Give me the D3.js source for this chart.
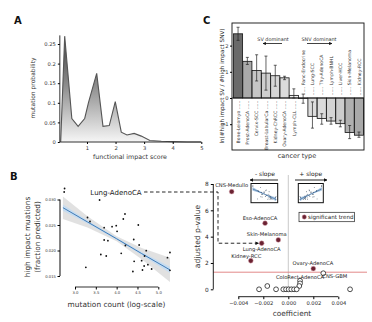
<!DOCTYPE html>
<html><head><meta charset="utf-8">
<script src="https://cdn.jsdelivr.net/npm/d3@7"></script>
<style>body{margin:0;background:#fff}svg{display:block;font-family:"DejaVu Sans",sans-serif}</style>
</head><body><svg id="c" width="372" height="322"></svg>
<script>
// ---- Panel A data: functional impact score distribution
const impactScore = [0.08,0.22,0.47,0.69,0.92,1.05,1.34,1.56,1.78,1.99,2.2,2.4,2.65,2.9,3.2,3.6,4.0,4.5,5.0];
const mutationProb = [0.0,0.27,0.06,0.04,0.06,0.1,0.175,0.04,0.042,0.103,0.025,0.018,0.022,0.015,0.004,0.002,0.001,0.0,0.0];
const aYTicks = [0,0.05,0.1,0.15,0.2,0.25];
const aXTicks = [1,2,3,4,5];

// ---- Panel C data
const cancerTypes = ["Bone-Leiomyo","Prost-AdenoCA","Cervix-SCC","Breast-LobularCa","Kidney-ChRCC","Ovary-AdenoCA","Lymph-CLL","Panc-Endocrine","Lung-SCC","Thy-AdenoCA","Lymph-BNHL","Liver-HCC","Skin-Melanoma","Kidney-RCC"];
const logRatio = [2.45,1.4,1.05,0.95,0.85,0.77,0.1,-0.02,-0.7,-0.78,-0.88,-0.98,-1.32,-1.42];
const errLow  = [2.2,1.28,0.65,0.3,0.45,0.7,0.0,-0.2,-1.15,-1.0,-1.0,-1.1,-1.55,-1.5];
const errHigh = [2.7,1.55,1.65,1.6,1.25,0.83,0.35,0.15,-0.15,-0.6,-0.75,-0.85,-1.05,-1.3];
const cYTicks = [-1,0,1,2];

// ---- Panel B left data: mutation count vs high impact fraction
const logMutCount = [2.75,2.74,3.59,3.30,3.36,3.70,3.89,3.99,4.01,4.16,4.20,3.70,3.79,3.62,3.75,4.11,4.52,4.21,4.41,4.54,4.71,4.67,4.42,4.39,4.60,4.66,4.75,4.84,4.62,3.26,5.22,5.28,5.28];
const highImpactFrac = [0.03216,0.03147,0.0299,0.02647,0.02569,0.02447,0.02467,0.02486,0.02376,0.02618,0.02716,0.02206,0.02192,0.01922,0.01892,0.01945,0.0250,0.02098,0.02216,0.02108,0.01996,0.01892,0.01788,0.01588,0.0180,0.01696,0.01722,0.01637,0.01618,0.01671,0.01859,0.01961,0.01612];
const fitX = [2.71,3.3,4.0,4.6,5.28];
const fitY = [0.0284,0.0256,0.0223,0.0194,0.0162];
const ciLow  = [0.0262,0.0245,0.0218,0.0183,0.0138];
const ciHigh = [0.0306,0.0267,0.0228,0.0205,0.0186];
const blueLow  = [0.0278,0.0253,0.0221,0.0191,0.0156];
const blueHigh = [0.0290,0.0259,0.0225,0.0197,0.0168];
const bXTicks = [3.0,3.5,4.0,4.5,5.0];
const bYTicks = [0.015,0.020,0.025,0.030];

// ---- Panel B right data: coefficient vs adjusted p-value
const tumorNames = ["CNS-Medullo","Eso-AdenoCA","Skin-Melanoma","Lung-AdenoCA","Kidney-RCC","Ovary-AdenoCA","CNS-GBM","ColoRect-AdenoCA","","","","","","","","","","","",""];
const coefficient = [-0.00453,-0.00186,-0.0008,-0.00213,-0.003,0.002,0.0028,0.00094,0.00094,0.00088,-0.00168,-0.00234,-0.00098,-0.0004,-0.00018,0.00003,0.00024,0.00046,0.00067,0.00494];
const adjP = [7.42,5.02,3.75,3.5,2.17,1.57,1.22,0.65,0.45,0.25,0.25,0,0,0,0,0,0,0,0,0];
const significant = [1,1,1,1,1,1,0,0,0,0,0,0,0,0,0,0,0,0,0,0];
const pThreshold = 1.3;
const rXTicks = [-0.004,-0.002,0,0.002,0.004];
const rYTicks = [0,2,4,6,8];

const svg = d3.select("#c");
svg.append("rect").attr("width",372).attr("height",322).attr("fill","#fff");
const defs = svg.append("defs");
const mk = (id)=>{ defs.append("marker").attr("id",id).attr("viewBox","0 0 10 10").attr("refX",9).attr("refY",5)
  .attr("markerWidth",4).attr("markerHeight",4).attr("orient","auto")
  .append("path").attr("d","M0,0L10,5L0,10z").attr("fill","#111"); };
mk("arr");

function label(x,y,t,size,opts={}){
  const c = opts.fill||"#222";
  const el = svg.append("text").attr("x",x).attr("y",y).text(t).attr("font-size",size).attr("fill",c).style("fill",c)
    .attr("text-anchor",opts.anchor||"middle");
  if(opts.rot) el.attr("transform",`rotate(${opts.rot},${x},${y})`);
  if(opts.bold) el.attr("font-weight","bold");
  return el;
}

// ================= Panel A
label(14,24,"A",10,{anchor:"start",bold:true,fill:"#111"});
const xA = d3.scaleLinear().domain([0,5]).range([58.4,201.3]);
const yA = d3.scaleLinear().domain([0,0.25]).range([142,44]);
const grad = defs.append("linearGradient").attr("id","ga").attr("x1",0).attr("x2",0)
  .attr("gradientUnits","userSpaceOnUse").attr("y1",yA(0.27)).attr("y2",yA(0));
grad.append("stop").attr("offset",0).attr("stop-color","#3e3e3e");
grad.append("stop").attr("offset",0.45).attr("stop-color","#8a8a8a");
grad.append("stop").attr("offset",1).attr("stop-color","#f6f6f6");
const aPts = impactScore.map((x,i)=>[x,mutationProb[i]]);
svg.append("path").datum(aPts).attr("fill","url(#ga)")
  .attr("d",d3.area().x(d=>xA(d[0])).y0(yA(0)).y1(d=>yA(d[1])));
svg.append("path").datum(aPts).attr("fill","none").attr("stroke","#555").attr("stroke-width",1.1)
  .attr("d",d3.line().x(d=>xA(d[0])).y(d=>yA(d[1])));
const gAy = svg.append("g").attr("transform",`translate(${xA(0.05)},0)`)
  .call(d3.axisLeft(yA).tickValues(aYTicks).tickSize(2).tickPadding(2).tickFormat(d=>d===0?"0":String(+d.toFixed(2))));
gAy.select(".domain").attr("d",`M0,${yA(0)}V${yA(0.272)}`).attr("stroke","#333");
gAy.selectAll("text").attr("font-size",5.2).attr("fill","#333").attr("font-family","DejaVu Sans");
const gAx = svg.append("g").attr("transform",`translate(0,${yA(0)})`)
  .call(d3.axisBottom(xA).tickValues(aXTicks).tickSize(2).tickPadding(2).tickFormat(d3.format("d")));
gAx.select(".domain").attr("d",`M${xA(0.05)},0H${xA(5)}`).attr("stroke","#333");
gAx.selectAll("text").attr("font-size",5.2).attr("fill","#333").attr("font-family","DejaVu Sans");
label(130,159,"functional impact score",6.3,{fill:"#333"});
label(35,88,"mutation probability",6,{rot:-90,fill:"#333"});

// ================= Panel C
label(203,24,"C",10,{anchor:"start",bold:true,fill:"#111"});
const xC = d3.scaleBand().domain(cancerTypes).range([233.5,363.5]).paddingInner(0.02);
const yC = d3.scaleLinear().domain([-1,2]).range([124.2,45.6]);
const colC = d3.scaleLinear().domain([0,0.8,1.4,2.45]).range(["#f4f4f4","#dadada","#aaaaaa","#6a6a6a"]);
svg.selectAll(".barC").data(cancerTypes).enter().append("rect")
  .attr("x",d=>xC(d)).attr("width",xC.bandwidth())
  .attr("y",(d,i)=>yC(Math.max(0,logRatio[i]))).attr("height",(d,i)=>Math.abs(yC(logRatio[i])-yC(0)))
  .attr("fill",(d,i)=>colC(Math.abs(logRatio[i]))).attr("stroke","#111").attr("stroke-width",0.8);
svg.append("line").attr("x1",232).attr("x2",364).attr("y1",yC(0)).attr("y2",yC(0)).attr("stroke","#111").attr("stroke-width",0.8);
cancerTypes.forEach((c,i)=>{
  const cx = xC(c)+xC.bandwidth()/2;
  svg.append("line").attr("x1",cx).attr("x2",cx).attr("y1",yC(errLow[i])).attr("y2",yC(errHigh[i])).attr("stroke","#222").attr("stroke-width",0.7);
  [errLow[i],errHigh[i]].forEach(v=>svg.append("line").attr("x1",cx-1.5).attr("x2",cx+1.5).attr("y1",yC(v)).attr("y2",yC(v)).attr("stroke","#222").attr("stroke-width",0.7));
  const pos = logRatio[i] > 0;
  const y = pos ? yC(0)+2.5 : yC(0)-2.5;
  const t = pos ? c+" ......" : "...... "+c;
  svg.append("text").attr("x",cx+1.7).attr("y",y).text(t).attr("font-size",4.6).attr("fill","#333")
    .attr("text-anchor",pos?"end":"start").attr("transform",`rotate(-90,${cx+1.7},${y})`);
});
svg.append("rect").attr("x",232).attr("y",23).attr("width",132).attr("height",127).attr("fill","none").attr("stroke","#111").attr("stroke-width",0.9);
const gCy = svg.append("g").attr("transform","translate(232,0)")
  .call(d3.axisLeft(yC).tickValues(cYTicks).tickSize(2).tickPadding(1.5).tickFormat(d3.format("d")));
gCy.select(".domain").remove();
gCy.selectAll("text").attr("font-size",5.2).attr("fill","#333").attr("font-family","DejaVu Sans");
label(223.5,86,"ln(#high impact SV / #high impact SNV)",5.7,{rot:-90,fill:"#222"});
label(297,158,"cancer type",6.5,{fill:"#333"});
label(273,41,"SV dominant",4.9,{fill:"#333"});
label(319,41,"SNV dominant",4.9,{fill:"#333"});
svg.append("line").attr("x1",282).attr("x2",263).attr("y1",43.5).attr("y2",43.5).attr("stroke","#111").attr("stroke-width",0.8).attr("marker-end","url(#arr)");
svg.append("line").attr("x1",307).attr("x2",332).attr("y1",43.5).attr("y2",43.5).attr("stroke","#111").attr("stroke-width",0.8).attr("marker-end","url(#arr)");

// ================= Panel B left
label(10,180,"B",10,{anchor:"start",bold:true,fill:"#111"});
const xB = d3.scaleLinear().domain([3.0,5.0]).range([75,158.3]);
const yB = d3.scaleLinear().domain([0.015,0.030]).range([276,199.5]);
const band = (lo,hi)=>d3.area().x((d,i)=>xB(fitX[i])).y0((d,i)=>yB(lo[i])).y1((d,i)=>yB(hi[i]));
svg.append("path").datum(fitX).attr("fill","#dcdcdc").attr("opacity",0.85).attr("d",band(ciLow,ciHigh));
svg.append("path").datum(fitX).attr("fill","#c6dcf0").attr("d",band(blueLow,blueHigh));
svg.append("path").datum(fitX).attr("fill","none").attr("stroke","#2f6fb0").attr("stroke-width",0.9)
  .attr("d",d3.line().x((d,i)=>xB(fitX[i])).y((d,i)=>yB(fitY[i])));
svg.selectAll(".ptB").data(logMutCount).enter().append("circle")
  .attr("cx",d=>xB(d)).attr("cy",(d,i)=>yB(highImpactFrac[i])).attr("r",0.9).attr("fill","#111");
const gBy = svg.append("g").attr("transform","translate(60,0)")
  .call(d3.axisLeft(yB).tickValues(bYTicks).tickSize(2.5).tickPadding(1.5).tickFormat(d3.format(".3f")));
gBy.select(".domain").attr("d",`M0,${yB(0.015)}V${yB(0.030)}`).attr("stroke","#333").attr("stroke-width",1.2);
gBy.selectAll("text").attr("font-size",3.8).attr("fill","#333").attr("font-family","DejaVu Sans");
const gBx = svg.append("g").attr("transform","translate(0,287)")
  .call(d3.axisBottom(xB).tickValues(bXTicks).tickSize(2.5).tickPadding(1.5).tickFormat(d3.format(".1f")));
gBx.select(".domain").attr("d",`M${xB(3)},0H${xB(5)}`).attr("stroke","#333").attr("stroke-width",1.2);
gBx.selectAll("text").attr("font-size",3.8).attr("fill","#333").attr("font-family","DejaVu Sans");
label(29.5,237,"high impact muations",7.4,{rot:-90,fill:"#333"});
label(39.5,237,"(fraction predicted)",7.4,{rot:-90,fill:"#333"});
label(116.5,307,"mutation count (log-scale)",7.4,{fill:"#333"});
label(116,195,"Lung-AdenoCA",7,{fill:"#222"});

// ================= Panel B right
const xR = d3.scaleLinear().domain([-0.004,0.004]).range([238.3,338.3]);
const yR = d3.scaleLinear().domain([0,8]).range([289.3,184]);
const lungIdx = tumorNames.indexOf("Lung-AdenoCA");
svg.append("path").attr("d",`M144,192H218V${yR(adjP[lungIdx])}H${xR(coefficient[lungIdx])-3}`)
  .attr("fill","none").attr("stroke","#111").attr("stroke-width",0.9).attr("stroke-dasharray","3.5,2.5").attr("marker-end","url(#arr)");
svg.append("line").attr("x1",xR(0)).attr("x2",xR(0)).attr("y1",175).attr("y2",yR(0)).attr("stroke","#bbb").attr("stroke-width",0.8);
svg.append("line").attr("x1",213).attr("x2",367).attr("y1",yR(pThreshold)).attr("y2",yR(pThreshold)).attr("stroke","#e07a7a").attr("stroke-width",0.9);
const gRy = svg.append("g").attr("transform","translate(213.3,0)")
  .call(d3.axisLeft(yR).tickValues(rYTicks).tickSize(2.5).tickPadding(2).tickFormat(d3.format("d")));
gRy.select(".domain").attr("d",`M0,${yR(0)}V${yR(8)}`).attr("stroke","#222").attr("stroke-width",1);
gRy.selectAll("text").attr("font-size",5.8).attr("fill","#222").attr("font-family","DejaVu Sans");
const gRx = svg.append("g").attr("transform","translate(0,296.7)")
  .call(d3.axisBottom(xR).tickValues(rXTicks).tickSize(2.5).tickPadding(2).tickFormat(d3.format(".3f")));
gRx.select(".domain").attr("d",`M${xR(-0.004)},0H${xR(0.004)}`).attr("stroke","#222").attr("stroke-width",1);
gRx.selectAll("text").attr("font-size",5.2).attr("fill","#222").attr("font-family","DejaVu Sans");
label(200,236.5,"adjusted p-value",7.6,{rot:-90,fill:"#333"});
label(292,316,"coefficient",7.4,{fill:"#333"});
svg.selectAll(".ptR").data(coefficient).enter().append("circle")
  .attr("cx",d=>xR(d)).attr("cy",(d,i)=>yR(adjP[i])).attr("r",2.4)
  .attr("fill",(d,i)=>significant[i]?"#6a2232":"#fff")
  .attr("stroke",(d,i)=>significant[i]?"#d9a0aa":"#222").attr("stroke-width",(d,i)=>significant[i]?0.5:0.8);
const nameOff = {"CNS-Medullo":[0,-6.5],"Eso-AdenoCA":[-5,-5],"Skin-Melanoma":[-11.5,-6],"Lung-AdenoCA":[0,5.8],"Kidney-RCC":[-4.5,-5],"Ovary-AdenoCA":[-0.5,-5.4],"CNS-GBM":[11.5,3.4],"ColoRect-AdenoCA":[0,-3.4]};
tumorNames.forEach((n,i)=>{ if(!n) return; const o=nameOff[n];
  label(xR(coefficient[i])+o[0],yR(adjP[i])+o[1]+1.8,n,5.2,{fill:"#222"}); });
label(265,175.5,"- slope",6,{fill:"#222"});
label(310.7,175.5,"+ slope",6,{fill:"#222"});
svg.append("line").attr("x1",278).attr("x2",250).attr("y1",180).attr("y2",180).attr("stroke","#111").attr("stroke-width",0.9).attr("marker-end","url(#arr)");
svg.append("line").attr("x1",295).attr("x2",327).attr("y1",180).attr("y2",180).attr("stroke","#111").attr("stroke-width",0.9).attr("marker-end","url(#arr)");
function inset(x0,w,flip){
  const y0=183.5,h=19.2;
  const xs=d3.scaleLinear().domain([2.7,5.3]).range(flip?[x0+w-1.5,x0+1.5]:[x0+1.5,x0+w-1.5]);
  const ys=d3.scaleLinear().domain([0.014,0.033]).range([y0+h-1.5,y0+1.5]);
  svg.append("rect").attr("x",x0).attr("y",y0).attr("width",w).attr("height",h).attr("fill","#fff");
  svg.append("path").datum(fitX).attr("fill","#a9c6e2")
    .attr("d",d3.area().x((d,i)=>xs(fitX[i])).y0((d,i)=>ys(ciLow[i])).y1((d,i)=>ys(ciHigh[i])));
  svg.append("path").datum(fitX).attr("fill","none").attr("stroke","#2f5f95").attr("stroke-width",0.6)
    .attr("d",d3.line().x((d,i)=>xs(fitX[i])).y((d,i)=>ys(fitY[i])));
  logMutCount.forEach((v,i)=>svg.append("circle").attr("cx",xs(v)).attr("cy",ys(highImpactFrac[i])).attr("r",0.45).attr("fill","#1c2f45"));
  svg.append("rect").attr("x",x0).attr("y",y0).attr("width",w).attr("height",h).attr("fill","none").attr("stroke","#111").attr("stroke-width",1);
}
inset(251,26.7,false);
inset(298.3,25,true);
svg.append("rect").attr("x",299).attr("y",212.3).attr("width",55.5).attr("height",9.4).attr("fill","#fff").attr("stroke","#222").attr("stroke-width",0.7);
svg.append("circle").attr("cx",304.3).attr("cy",217).attr("r",2.2).attr("fill","#6a2232").attr("stroke","#d9a0aa").attr("stroke-width",0.5);
label(308,219,"significant trend",5.6,{anchor:"start",fill:"#222"});
</script></body></html>
